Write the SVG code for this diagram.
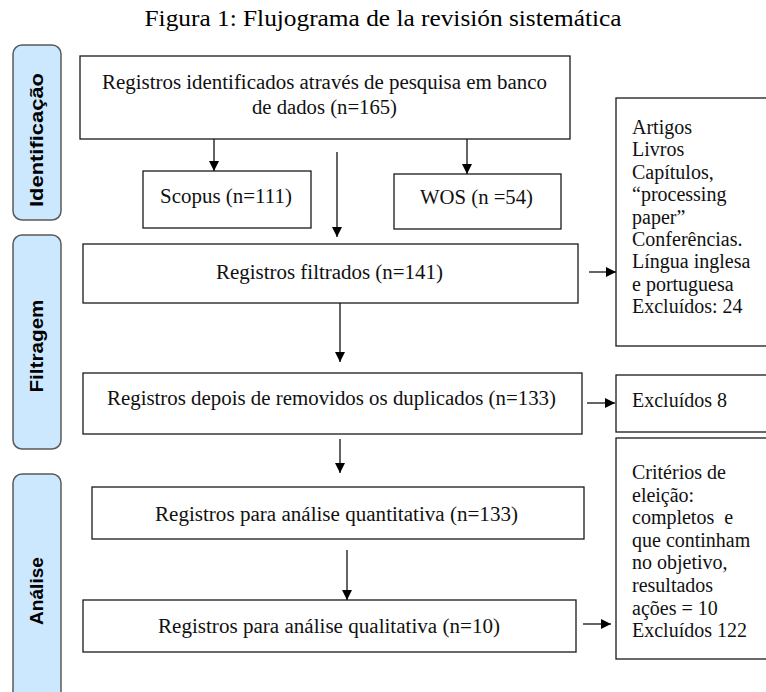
<svg xmlns="http://www.w3.org/2000/svg" width="766" height="692" viewBox="0 0 766 692">
<defs>
<style>
.box{fill:#fff;stroke:#1a1a1a;stroke-width:1.3}
.bar{fill:#cce8ff;stroke:#5a5a5a;stroke-width:1.5}
.t{font-family:"Liberation Serif","Times New Roman",serif;font-size:20.5px;fill:#111;text-anchor:middle}
.r{font-family:"Liberation Serif","Times New Roman",serif;font-size:20px;fill:#111;white-space:pre}
.s{font-family:"Liberation Sans",Arial,sans-serif;font-weight:bold;font-size:18.5px;fill:#000;text-anchor:middle}
.c{stroke:#111;stroke-width:1.3;fill:none;marker-end:url(#ah)}
</style>
<marker id="ah" viewBox="0 0 10 10" refX="10" refY="5" markerWidth="10" markerHeight="10" markerUnits="userSpaceOnUse" orient="auto">
<path d="M0,0 L10,5 L0,10 Z" fill="#000"/>
</marker>
</defs>
<rect width="766" height="692" fill="#fff"/>
<text x="383" y="26" font-family="Liberation Serif, Times New Roman, serif" font-size="24" text-anchor="middle" textLength="477" lengthAdjust="spacingAndGlyphs" fill="#000">Figura 1: Flujograma de la revisión sistemática</text>

<g id="bar-identificacao">
<rect class="bar" x="13" y="45" width="48" height="175" rx="9"/>
<text class="s" transform="translate(43,140) rotate(-90)" textLength="134" lengthAdjust="spacingAndGlyphs">Identificação</text>
</g>
<g id="bar-filtragem">
<rect class="bar" x="13" y="235" width="48" height="214" rx="9"/>
<text class="s" transform="translate(43,346) rotate(-90)" textLength="93" lengthAdjust="spacingAndGlyphs">Filtragem</text>
</g>
<g id="bar-analise">
<rect class="bar" x="13" y="474" width="48" height="232" rx="9"/>
<text class="s" transform="translate(43,591) rotate(-90)" textLength="68" lengthAdjust="spacingAndGlyphs">Análise</text>
</g>

<g id="n-registros">
<rect class="box" x="80" y="56" width="490" height="83"/>
<text class="t" x="324.5" y="89" textLength="445" lengthAdjust="spacingAndGlyphs">Registros identificados através de pesquisa em banco</text>
<text class="t" x="324.5" y="114" textLength="145" lengthAdjust="spacingAndGlyphs">de dados (n=165)</text>
</g>
<g id="n-scopus">
<rect class="box" x="143" y="171" width="168" height="57"/>
<text class="t" x="226" y="203" textLength="132" lengthAdjust="spacingAndGlyphs">Scopus (n=111)</text>
</g>
<g id="n-wos">
<rect class="box" x="394" y="174" width="167" height="55"/>
<text class="t" x="476.5" y="204" textLength="113" lengthAdjust="spacingAndGlyphs">WOS (n =54)</text>
</g>
<g id="n-filtrados">
<rect class="box" x="83" y="244" width="495" height="59"/>
<text class="t" x="329.5" y="279" textLength="227" lengthAdjust="spacingAndGlyphs">Registros filtrados (n=141)</text>
</g>
<g id="n-duplicados">
<rect class="box" x="83" y="373" width="499" height="61"/>
<text class="t" x="331.5" y="405" textLength="449" lengthAdjust="spacingAndGlyphs">Registros depois de removidos os duplicados (n=133)</text>
</g>
<g id="n-quantitativa">
<rect class="box" x="92" y="487" width="492" height="52"/>
<text class="t" x="336.5" y="521" textLength="363" lengthAdjust="spacingAndGlyphs">Registros para análise quantitativa (n=133)</text>
</g>
<g id="n-qualitativa">
<rect class="box" x="83" y="600" width="493" height="52"/>
<text class="t" x="329" y="633" textLength="342" lengthAdjust="spacingAndGlyphs">Registros para análise qualitativa (n=10)</text>
</g>

<g id="n-excl-24">
<rect class="box" x="616" y="98" width="160" height="248"/>
<text class="r" x="632" y="134">Artigos</text>
<text class="r" x="632" y="156.4">Livros</text>
<text class="r" x="632" y="178.8">Capítulos,</text>
<text class="r" x="632" y="201.2">“processing</text>
<text class="r" x="632" y="223.6">paper”</text>
<text class="r" x="632" y="246">Conferências.</text>
<text class="r" x="632" y="268.4">Língua inglesa</text>
<text class="r" x="632" y="290.8">e portuguesa</text>
<text class="r" x="632" y="313.2">Excluídos: 24</text>
</g>
<g id="n-excl-8">
<rect class="box" x="616" y="375" width="160" height="57"/>
<text class="r" x="632" y="407">Excluídos 8</text>
</g>
<g id="n-excl-122">
<rect class="box" x="616" y="438" width="160" height="221"/>
<text class="r" x="632" y="479">Critérios de</text>
<text class="r" x="632" y="501.6">eleição:</text>
<text class="r" x="632" y="524.2">completos  e</text>
<text class="r" x="632" y="546.8">que continham</text>
<text class="r" x="632" y="569.4">no objetivo,</text>
<text class="r" x="632" y="592">resultados</text>
<text class="r" x="632" y="614.6">ações = 10</text>
<text class="r" x="632" y="637.2">Excluídos 122</text>
</g>

<g id="connectors">
<line class="c" x1="214" y1="139" x2="214" y2="171"/>
<line class="c" x1="467" y1="139" x2="467" y2="174"/>
<line class="c" x1="337" y1="152" x2="337" y2="237"/>
<line class="c" x1="589" y1="272" x2="616" y2="272"/>
<line class="c" x1="340" y1="303" x2="340" y2="362"/>
<line class="c" x1="587" y1="403" x2="615" y2="403"/>
<line class="c" x1="340" y1="439" x2="340" y2="473"/>
<line class="c" x1="347" y1="550" x2="347" y2="600"/>
<line class="c" x1="583" y1="624" x2="611" y2="624"/>
</g>
</svg>
